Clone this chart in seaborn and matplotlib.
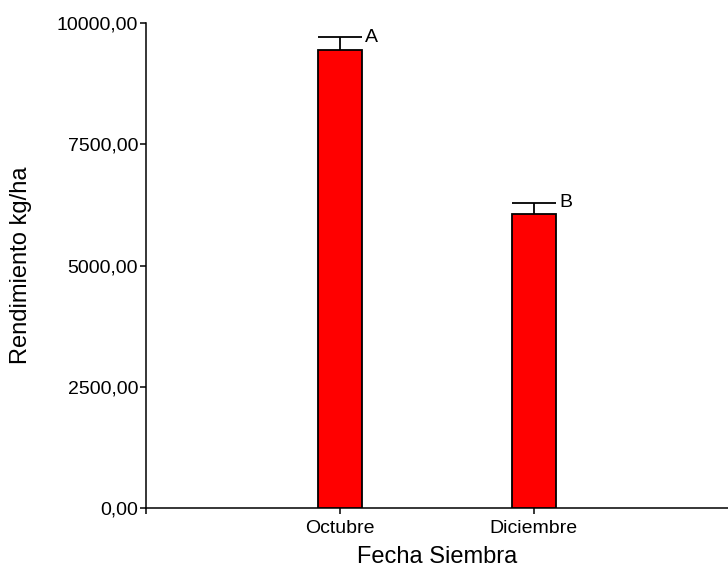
import matplotlib
matplotlib.use("Agg")
import matplotlib.pyplot as plt
import seaborn as sns
import pandas as pd

# Rendimiento medio por fecha de siembra
fechas = ["Octubre", "Diciembre"]
rendimiento = [9460, 6055]
error = [250, 240]
letras = ["A", "B"]
yticks = [0, 2500, 5000, 7500, 10000]

sns.set_style("ticks")
plt.rcParams["font.family"] = ["Liberation Sans", "DejaVu Sans"]
plt.rcParams["text.color"] = "black"
plt.rcParams["axes.labelcolor"] = "black"
plt.rcParams["xtick.color"] = "black"
plt.rcParams["ytick.color"] = "black"

df = pd.DataFrame({"Fecha Siembra": fechas, "Rendimiento": rendimiento})

fig = plt.figure(figsize=(7.28, 5.70), dpi=100)
ax = fig.add_axes([0.2001, 0.1093, 0.7999, 0.8497])

bar_w = 0.225
sns.barplot(data=df, x="Fecha Siembra", y="Rendimiento", order=fechas,
            color="#ff0000", saturation=1, width=bar_w, errorbar=None,
            edgecolor="black", linewidth=1.3, ax=ax, zorder=3)

# Barra de error superior con tapa del ancho de la barra y letra de significancia
for i, (v, e, l) in enumerate(zip(rendimiento, error, letras)):
    ax.vlines(i, v, v + e, color="black", linewidth=1.3, zorder=2)
    ax.hlines(v + e, i - bar_w / 2, i + bar_w / 2, color="black", linewidth=1.3, zorder=2)
    ax.annotate(l, xy=(i + bar_w / 2, v + e), xytext=(2.5, 0),
                textcoords="offset points", ha="left", va="center", fontsize=14)

ax.set_xlim(-1, 2)
ax.set_ylim(0, 10000)
ax.set_yticks(yticks)
ax.set_yticklabels([f"{t:.2f}".replace(".", ",") for t in yticks])
ax.set_xticks([-1, 0, 1])
ax.set_xticklabels(["", "Octubre", "Diciembre"])

ax.set_xlabel("Fecha Siembra", fontsize=17, labelpad=6)
ax.set_ylabel("Rendimiento kg/ha", fontsize=17, labelpad=18)
ax.tick_params(axis="both", labelsize=14, length=4, width=1.1, color="black")
ax.tick_params(axis="x", pad=5)
ax.tick_params(axis="y", pad=1.5)

for s in ["top", "right"]:
    ax.spines[s].set_visible(False)
for s in ["left", "bottom"]:
    ax.spines[s].set_linewidth(1.1)
    ax.spines[s].set_color("black")

fig.savefig("out.png", dpi=100)
